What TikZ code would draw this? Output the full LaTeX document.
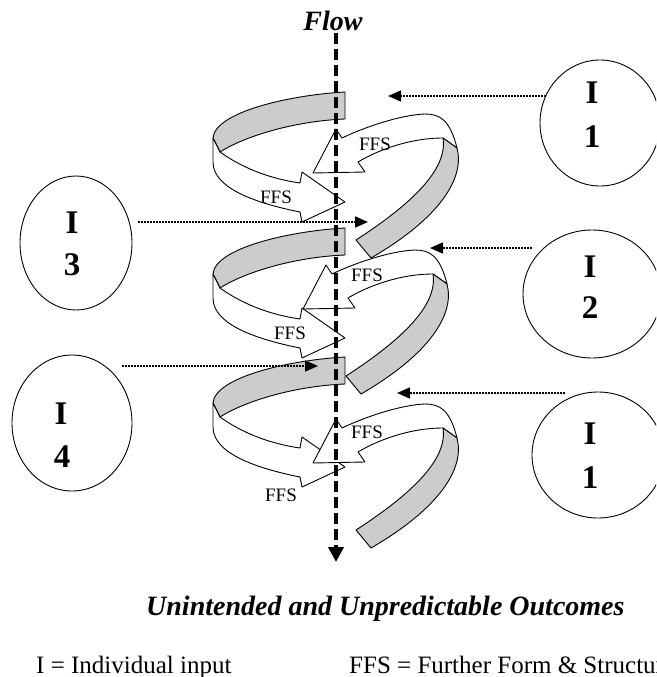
\documentclass[tikz,border=0pt]{standalone}
\usepackage{fontspec}
\setmainfont{Liberation Serif}
\usetikzlibrary{arrows.meta,shapes.geometric}
\definecolor{bandgray}{RGB}{204,204,204}

\begin{document}
\begin{tikzpicture}[x=1pt,y=-1pt,
  band/.style={draw=black,line width=0.9pt,fill=bandgray,line join=round},
  ribbon/.style={draw=black,line width=0.9pt,fill=white,line join=round},
  feed/.style={line width=1.6pt,dash pattern=on 2pt off 1pt,
    -{Triangle[length=13pt,width=11pt]}},
  flowline/.style={line width=4pt,dash pattern=on 11pt off 5pt,
    -{Triangle[length=15pt,width=15pt]}},
  inbox/.style={draw=black,line width=0.9pt,ellipse,inner sep=0pt},
  inlabel/.style={font=\fontsize{33}{33}\selectfont\bfseries,inner sep=0pt},
  ffs/.style={font=\fontsize{19}{19}\selectfont,inner sep=0pt},
  headline/.style={font=\fontsize{28}{28}\selectfont\bfseries\itshape,inner sep=0pt},
  legend/.style={font=\fontsize{25}{25}\selectfont,inner sep=0pt},
  coilleft/.pic={
    % grey upper face sweeping to the left
    \path[band] (345,92) .. controls (290,95) and (215,112) .. (213,138)
      -- (220,152) .. controls (245,136) and (295,121) .. (345,119) -- cycle;
    % white underside turning back as an arrow to the right
    \path[ribbon] (213,138) -- (220,152) .. controls (238,165) and (265,178) .. (300,183)
      -- (302,172) -- (345,202) -- (302,222) -- (300,212)
      .. controls (255,203) and (213,188) .. (213,162) -- cycle;
  },
  coilright/.pic={
    % white arrow curling back to the left
    \path[ribbon] (342,138) -- (336,129) -- (313,173) -- (365,172) -- (358,162)
      .. controls (378,150) and (410,138) .. (443,138) -- (457,148)
      .. controls (450,120) and (440,114) .. (425,114)
      .. controls (400,115) and (365,127) .. (342,138) -- cycle;
    % grey band running down to the next turn
    \path[band] (443,138) -- (457,148) .. controls (465,178) and (440,218) .. (371,258)
      -- (356,240) .. controls (410,205) and (448,170) .. (443,138) -- cycle;
  }]

\useasboundingbox (0,0) rectangle (656,677);
\clip (0,0) rectangle (656,677);

% spiral turns
\pic at (0,0) {coilleft};
\pic at (0,0) {coilright};
\pic at (0,136) {coilleft};
\pic at (-10,136) {coilright};
\begin{scope}[shift={(0,265)},yscale=1.17]
  \pic at (0,0) {coilleft};
\end{scope}
\pic at (0,290) {coilright};

% labels on the arrows
\node[ffs] (f1l) at (276,197) {FFS};
\node[ffs] (f2l) at (290,333) {FFS};
\node[ffs] (f3l) at (281,495) {FFS};
\node[ffs] (f1r) at (375,144) {FFS};
\node[ffs] (f2r) at (367,275) {FFS};
\node[ffs] (f3r) at (367,432) {FFS};

% main flow
\node[headline,anchor=base] (flow) at (333,31) {Flow};
\coordinate (flowtop) at (336,33);
\coordinate (flowend) at (336,562);
\draw[flowline] (flowtop) -- (flowend);

% individual inputs
\node[inbox,minimum width=120pt,minimum height=126pt] (e1) at (600,123) {};
\node[inbox,minimum width=138pt,minimum height=128pt] (e2) at (592,294) {};
\node[inbox,minimum width=112pt,minimum height=134pt] (e3) at (76,243) {};
\node[inbox,minimum width=120pt,minimum height=136pt] (e4) at (72,423) {};
\node[inbox,minimum width=132pt,minimum height=126pt] (e5) at (598,455) {};

\node[inlabel] (e1a) at (592,93) {I};
\node[inlabel] (e1b) at (592,137) {1};
\node[inlabel] (e2a) at (590,267) {I};
\node[inlabel] (e2b) at (590,308) {2};
\node[inlabel] (e3a) at (72,223) {I};
\node[inlabel] (e3b) at (72,265) {3};
\node[inlabel] (e4a) at (61,414) {I};
\node[inlabel] (e4b) at (62,457) {4};
\node[inlabel] (e5a) at (590,434) {I};
\node[inlabel] (e5b) at (590,478) {1};

% input arrows
\coordinate (s1) at (546,96);   \coordinate (t1) at (388,96);
\coordinate (s2) at (532,248);  \coordinate (t2) at (430,248);
\coordinate (s3) at (138,222);  \coordinate (t3) at (368,222);
\coordinate (s4) at (122,366);  \coordinate (t4) at (318,366);
\coordinate (s5) at (565,393);  \coordinate (t5) at (397,393);
\draw[feed] (s1) -- (t1);
\draw[feed] (s2) -- (t2);
\draw[feed] (s3) -- (t3);
\draw[feed] (s4) -- (t4);
\draw[feed] (s5) -- (t5);

% outcome and key
\node[headline,anchor=base west] (outcome) at (146,615) {Unintended and Unpredictable Outcomes};
\node[legend,anchor=base west] (keyi) at (36,673) {I = Individual input};
\node[legend,anchor=base west] (keyf) at (349,673) {FFS = Further Form \& Structure};
\end{tikzpicture}
\end{document}
